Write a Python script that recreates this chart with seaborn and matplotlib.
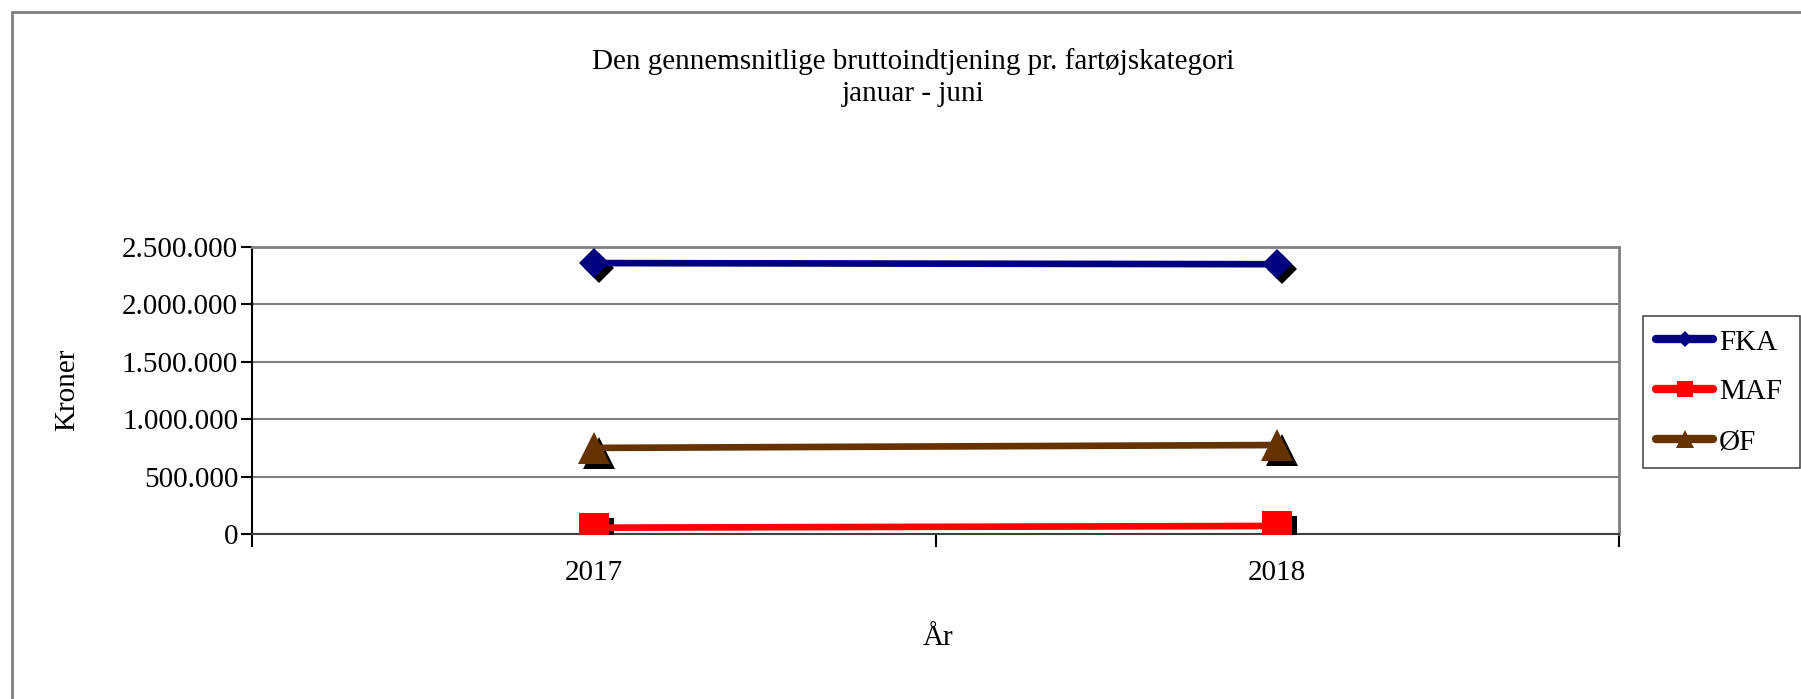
import matplotlib
matplotlib.use("Agg")
import matplotlib.pyplot as plt
import matplotlib.transforms as mtransforms
from matplotlib.lines import Line2D
from matplotlib.ticker import FuncFormatter, FixedLocator
import seaborn as sns

# ---- data ----
years = ["2017", "2018"]
series_names = ["FKA", "MAF", "ØF"]
fka = [2360000, 2350000]
maf = [55000, 70000]
oef = [750000, 775000]
series_values = [fka, maf, oef]
colors = ["#000080", "#FF0000", "#663300"]
markers = ["D", "s", "^"]
msizes = [15.5, 22, 23]
yticks = [0, 500000, 1000000, 1500000, 2000000, 2500000]

sns.set_theme(style="white")
plt.rcParams["font.family"] = ["Liberation Serif", "DejaVu Serif"]
FS = 21

W, H = 1801, 699
fig = plt.figure(figsize=(W / 100, H / 100), dpi=100)
fig.patch.set_facecolor("white")

# outer chart frame (top and left only visible)
fig.add_artist(Line2D([12 / W, 1.0], [1 - 12 / H, 1 - 12 / H], transform=fig.transFigure,
                      color="#808080", lw=2))
fig.add_artist(Line2D([12 / W, 12 / W], [0.0, 1 - 12 / H], transform=fig.transFigure,
                      color="#808080", lw=2))

ax = fig.add_axes([252 / W, (H - 534) / H, (1619 - 252) / W, (534 - 247) / H])
ax.set_facecolor("white")

shadow = ax.transData + mtransforms.ScaledTranslation(5 / 100, -5 / 100, fig.dpi_scale_trans)

for name, vals, c, m, ms in zip(series_names, series_values, colors, markers, msizes):
    sns.lineplot(x=years, y=vals, ax=ax, color="black", marker=m, markersize=ms,
                 markeredgecolor="black", markeredgewidth=0, linestyle="", transform=shadow,
                 zorder=3, legend=False)
    sns.lineplot(x=years, y=vals, ax=ax, color=c, lw=4.8, marker=m, markersize=ms,
                 markeredgecolor=c, markeredgewidth=0, zorder=4, legend=False)

ax.set_xlim(-0.5, 1.5)
ax.set_ylim(0, 2500000)
ax.set_yticks(yticks)
ax.yaxis.set_major_formatter(FuncFormatter(lambda v, p: f"{int(v):,}".replace(",", ".")))
ax.grid(axis="y", color="#808080", lw=1.5)
ax.grid(axis="x", visible=False)
ax.set_axisbelow(True)

ax.set_xticks([0, 1])
ax.set_xticklabels(years)
ax.xaxis.set_minor_locator(FixedLocator([-0.5, 0.5, 1.5]))
ax.tick_params(axis="x", which="major", length=0, labelsize=FS, pad=18.5, colors="black")
ax.tick_params(axis="x", which="minor", length=9, width=1.5, color="black", direction="out", bottom=True)
ax.tick_params(axis="y", length=8, width=1.5, color="black", direction="out", left=True,
               labelsize=FS, pad=2)
for lab in ax.get_xticklabels() + ax.get_yticklabels():
    lab.set_color("black")

ax.spines["left"].set_color("black")
ax.spines["left"].set_linewidth(1.5)
ax.spines["bottom"].set_color("#404040")
ax.spines["bottom"].set_linewidth(1.5)
for s in ["top", "right"]:
    ax.spines[s].set_color("#808080")
    ax.spines[s].set_linewidth(2)

ax.set_xlabel("")
ax.set_ylabel("")
fig.text(67 / W, 1 - 390 / H, "Kroner", rotation=90, ha="center", va="center", fontsize=FS, color="black")
fig.text(938 / W, 1 - 638 / H, "År", ha="center", va="center", fontsize=FS, color="black")
fig.text(913 / W, 1 - 62 / H, "Den gennemsnitlige bruttoindtjening pr. fartøjskategori",
         ha="center", va="center", fontsize=FS, color="black")
fig.text(913 / W, 1 - 94 / H, "januar - juni", ha="center", va="center", fontsize=FS, color="black")

handles = [Line2D([], [], color=c, lw=6, marker=m, markersize=ms * 0.55, solid_capstyle="round",
                  markeredgewidth=0)
           for c, m, ms in zip(colors, markers, msizes)]
leg = ax.legend(handles, series_names, loc="upper left",
                bbox_to_anchor=(1643 / W, 1 - 466 / H, 157 / W, 150 / H), mode="expand",
                bbox_transform=fig.transFigure, borderaxespad=0, fontsize=FS, frameon=True,
                fancybox=False, edgecolor="#202020", handlelength=1.95, handletextpad=0.2,
                labelspacing=0.8, borderpad=0.45)
leg.get_frame().set_linewidth(1.2)
for t in leg.get_texts():
    t.set_color("black")

fig.savefig("out.png", dpi=100, facecolor="white")
